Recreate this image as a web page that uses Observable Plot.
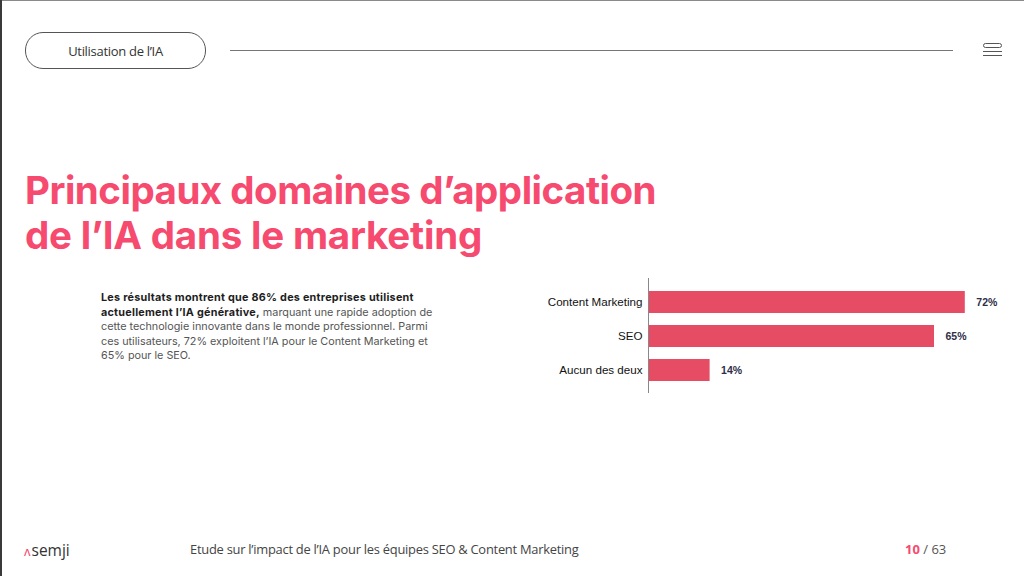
<!DOCTYPE html>
<html>
<head>
<meta charset="utf-8">
<script src="https://cdn.jsdelivr.net/npm/d3@7"></script>
<script src="https://cdn.jsdelivr.net/npm/@observablehq/plot@0.6"></script>
<style>
  html, body { margin:0; padding:0; background:#fff; }
  body { width:1024px; height:576px; position:relative; overflow:hidden; font-family:"Open Sans", sans-serif; }
  .border-top { position:absolute; left:0; top:0; width:1024px; height:1px; background:#8a8a8a; }
  .border-left { position:absolute; left:0; top:0; width:2px; height:576px; background:#3a3a3a; }
  .pill { position:absolute; left:25px; top:32px; width:179px; height:35px; border:1px solid #555; border-radius:18px; display:flex; align-items:center; justify-content:center; font-size:13px; color:#333; font-family:"Open Sans", sans-serif; letter-spacing:-0.3px; }
  .hline { position:absolute; left:230px; top:50px; width:723px; height:1px; background:#777; }
  .menu { position:absolute; left:983px; top:43px; width:19px; }
  .menu .r { height:3px; border:1px solid #555; border-radius:3px; }
  .menu .l { height:1px; background:#555; margin-top:3px; }
  .title { position:absolute; left:25px; top:168px; font-family:Inter, sans-serif; font-weight:700; font-size:38.5px; line-height:45px; color:#f64a6f; letter-spacing:-0.5px; }
  .title .l2 { letter-spacing:-0.2px; }
  .para { position:absolute; left:101px; top:291px; white-space:nowrap; font-family:Inter, sans-serif; font-size:10.8px; line-height:14.5px; color:#555; }
  .para b { color:#1e1e1e; font-weight:700; letter-spacing:0.25px; }
  #chart { position:absolute; left:500px; top:270px; }
  .logo { position:absolute; left:24px; top:539px; font-size:15.5px; color:#333; font-family:"Open Sans", sans-serif; }
  .logo .c { color:#f64a6f; font-size:13px; margin-right:1px; }
  .foot { position:absolute; left:190px; top:540px; font-size:12.9px; color:#444; letter-spacing:-0.25px; }
  .page { position:absolute; left:905px; top:540px; font-size:13px; color:#555; }
  .page b { color:#f64a6f; }
</style>
</head>
<body>
<div class="border-top"></div>
<div class="border-left"></div>
<div class="pill">Utilisation de l’IA</div>
<div class="hline"></div>
<div class="menu"><div class="r"></div><div class="l"></div><div class="l"></div></div>
<div class="title">Principaux domaines d’application<br><span class="l2">de l’IA dans le marketing</span></div>
<div class="para"><b>Les résultats montrent que 86% des entreprises utilisent</b><br><b>actuellement l’IA générative,</b>&nbsp;marquant une rapide adoption de<br>cette technologie innovante dans le monde professionnel. Parmi<br>ces utilisateurs, 72% exploitent l’IA pour le Content Marketing et<br>65% pour le SEO.</div>
<div id="chart"></div>
<div class="logo"><span class="c">ʌ</span>semji</div>
<div class="foot">Etude sur l’impact de l’IA pour les équipes SEO &amp; Content Marketing</div>
<div class="page"><b>10</b> / 63</div>
<script>
const categories = ["Content Marketing", "SEO", "Aucun des deux"];
const values = [72, 65, 14];
const valueLabels = ["72%", "65%", "14%"];

const data = categories.map((c, i) => ({category: c, value: values[i], label: valueLabels[i]}));

const chart = Plot.plot({
  width: 510,
  height: 130,
  marginLeft: 148,
  marginRight: 10,
  marginTop: 8,
  marginBottom: 7,
  style: {fontFamily: "'Liberation Sans', Arial, sans-serif", overflow: "visible", background: "transparent"},
  x: {domain: [0, 80], axis: null},
  y: {domain: categories, padding: 0.36, label: null, tickSize: 0, tickPadding: 6},
  marks: [
    Plot.barX(data, {x: "value", y: "category", fill: "#e64c64"}),
    Plot.text(data, {x: "value", y: "category", text: "label", dx: 11, textAnchor: "start", fontWeight: "bold", fontSize: 10.5, fill: "#2e2e48"}),
    Plot.ruleX([0], {stroke: "#888"})
  ]
});
chart.querySelectorAll("[aria-label='y-axis tick label'] text").forEach(t => { t.setAttribute("fill", "#111"); t.style.fontSize = "11.6px"; });
document.getElementById("chart").appendChild(chart);
</script>
</body>
</html>
